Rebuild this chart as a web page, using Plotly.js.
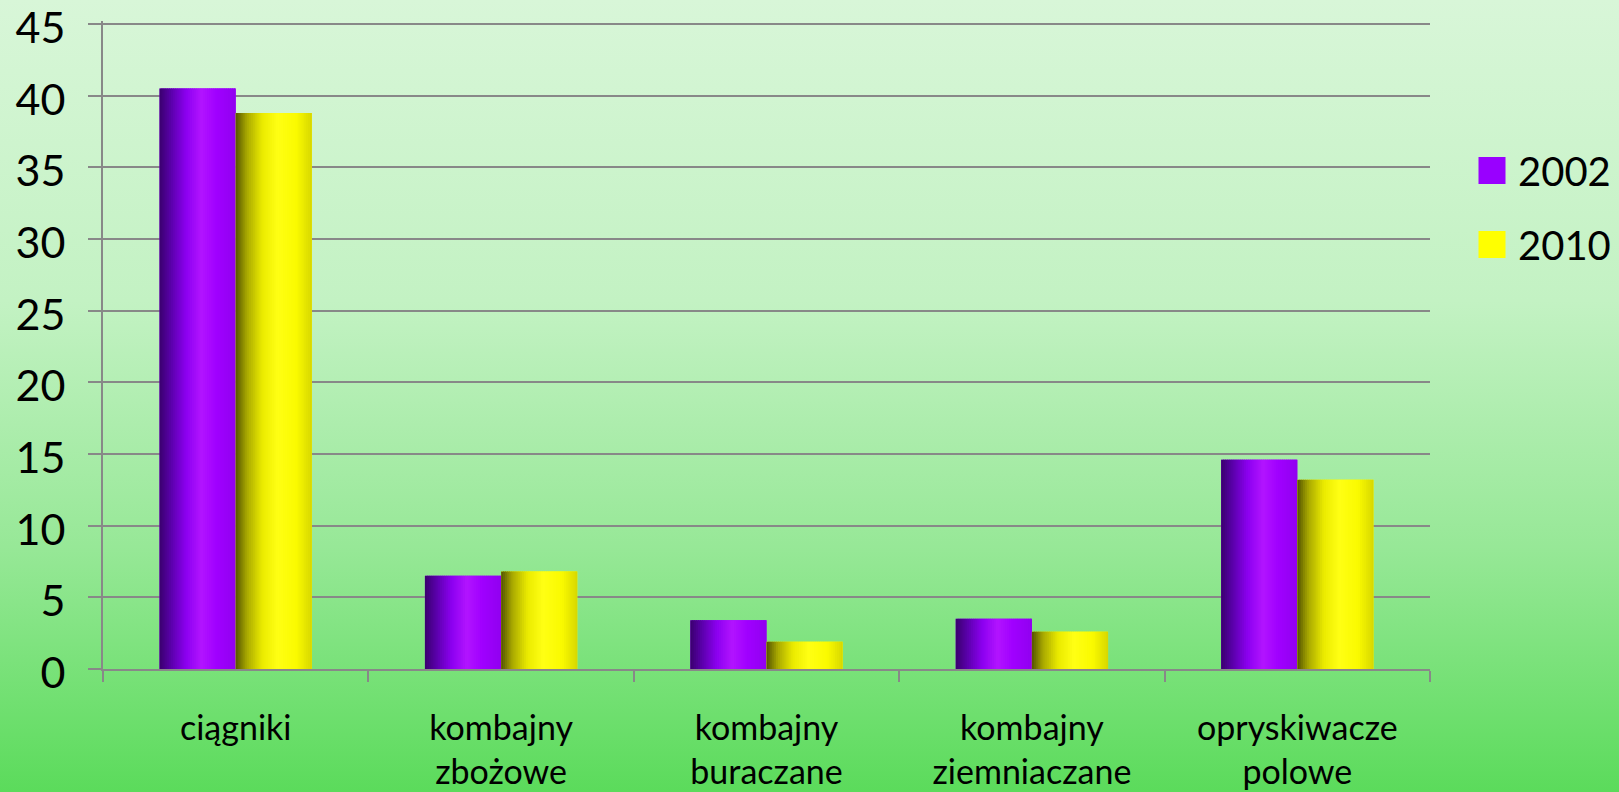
<!DOCTYPE html>
<html>
<head>
<meta charset="utf-8">
<script src="https://cdn.plot.ly/plotly-3.0.1.min.js"></script>
<style>
  html, body { margin: 0; padding: 0; }
  body {
    width: 1619px; height: 792px; overflow: hidden;
    background: linear-gradient(to bottom, #d8f6d8 0%, #c3f2c3 38%, #97e897 69%, #5bdb5b 100%);
  }
  #chart { width: 1619px; height: 792px; }
  .legend .legendpoints path {
    transform: translate(14px, 0px) scale(2.25);
  }
  g.ytick { transform: translateY(4px); }
</style>
</head>
<body>
<div id="chart"></div>
<script>
// ---- data ----
const categories = ['ciągniki', 'kombajny<br>zbożowe', 'kombajny<br>buraczane', 'kombajny<br>ziemniaczane', 'opryskiwacze<br>polowe'];
const seriesNames = ['2002', '2010'];
const values2002 = [40.5, 6.5, 3.4, 3.5, 14.6];
const values2010 = [38.8, 6.8, 1.9, 2.6, 13.2];
const yTickValues = [0, 5, 10, 15, 20, 25, 30, 35, 40, 45];

// ---- styling ----
const legendColors = ['#9900ff', '#ffff00'];
const gradients = [
  [[0, [58, 0, 110]], [0.15, [90, 0, 170]], [0.35, [140, 0, 240]], [0.55, [178, 20, 255]], [0.75, [160, 0, 255]], [1, [145, 0, 240]]],
  [[0, [85, 85, 0]], [0.15, [170, 170, 0]], [0.35, [235, 235, 0]], [0.55, [255, 255, 20]], [0.8, [250, 250, 0]], [1, [215, 215, 0]]]
];
function gradColor(stops, t) {
  for (let i = 1; i < stops.length; i++) {
    if (t <= stops[i][0]) {
      const a = stops[i - 1], b = stops[i];
      const f = (t - a[0]) / (b[0] - a[0]);
      const c = a[1].map((v, k) => Math.round(v + (b[1][k] - v) * f));
      return 'rgb(' + c.join(',') + ')';
    }
  }
  const c = stops[stops.length - 1][1];
  return 'rgb(' + c.join(',') + ')';
}

const barW = 0.287;
const nStrips = 40;
const allValues = [values2002, values2010];
const traces = [];

allValues.forEach((vals, s) => {
  const baseOffset = s === 0 ? -barW : 0;
  // series trace (used for the legend), underneath the shading strips
  traces.push({
    type: 'bar', name: seriesNames[s], x: categories, y: vals,
    width: barW, offset: baseOffset,
    marker: { color: legendColors[s], line: { width: 0 } },
    legendgroup: 'g' + s, showlegend: true, hoverinfo: 'y+name'
  });
  const sw = barW / nStrips;
  for (let i = 0; i < nStrips; i++) {
    const t = (i + 0.5) / nStrips;
    traces.push({
      type: 'bar', name: seriesNames[s], x: categories, y: vals,
      width: (i === nStrips - 1) ? sw : sw * 1.6,
      offset: baseOffset + i * sw,
      marker: { color: gradColor(gradients[s], t), line: { width: 0 } },
      legendgroup: 'g' + s, showlegend: false, hoverinfo: 'skip'
    });
  }
});

const layout = {
  width: 1619, height: 792,
  paper_bgcolor: 'rgba(0,0,0,0)',
  plot_bgcolor: 'rgba(0,0,0,0)',
  margin: { l: 103, r: 189, t: 21, b: 123 },
  barmode: 'overlay',
  font: { family: 'Lato, "Open Sans", sans-serif', color: '#000' },
  xaxis: {
    type: 'category',
    tickson: 'boundaries',
    ticks: 'outside', ticklen: 11, tickwidth: 2, tickcolor: '#888888',
    showline: true, linecolor: '#888888', linewidth: 2,
    showgrid: false,
    tickfont: { size: 34, family: 'Lato, sans-serif', color: '#000' },
    ticklabelstandoff: 28,
    ticklabeloverflow: 'allow',
    fixedrange: true
  },
  yaxis: {
    range: [0, 45.21],
    tickvals: yTickValues,
    ticktext: yTickValues.map(String),
    ticks: 'outside', ticklen: 13, tickwidth: 2, tickcolor: '#888888',
    showline: true, linecolor: '#888888', linewidth: 2,
    showgrid: true, gridcolor: '#888888', gridwidth: 2,
    zeroline: false,
    tickfont: { size: 43, family: 'Lato, sans-serif', color: '#000' },
    ticklabelstandoff: 14,
    ticklabeloverflow: 'allow',
    fixedrange: true
  },
  showlegend: true,
  legend: {
    xref: 'container', yref: 'container',
    x: 1478 / 1619, xanchor: 'left',
    y: 1 - 138 / 792, yanchor: 'top',
    bgcolor: 'rgba(0,0,0,0)',
    font: { size: 40, family: 'Lato, sans-serif', color: '#000' },
    traceorder: 'grouped',
    tracegroupgap: 19,
    itemclick: false, itemdoubleclick: false
  }
};

Plotly.newPlot('chart', traces, layout, { displayModeBar: false, staticPlot: true });
</script>
</body>
</html>
